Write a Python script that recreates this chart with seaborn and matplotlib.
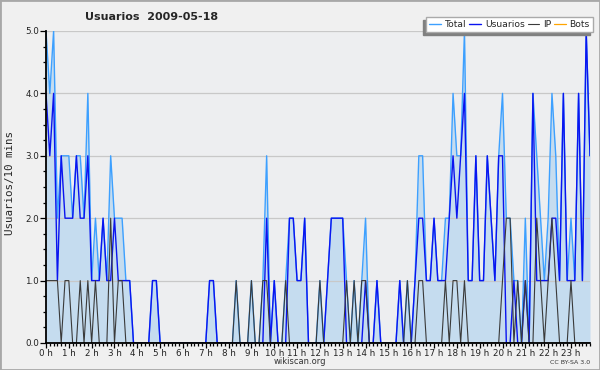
import matplotlib
matplotlib.use('Agg')
import matplotlib.pyplot as plt
from matplotlib.patches import Rectangle
from matplotlib.ticker import MultipleLocator, FixedLocator, FormatStrFormatter
import numpy as np
import pandas as pd
import seaborn as sns

# one value per 10 minutes, 2009-05-18 (144 slots)
total = [5, 4, 5, 2, 3, 3, 3, 2, 3, 3, 2, 4,
         1, 2, 1, 2, 1, 3, 2, 2, 2, 1, 1, 0,
         0, 0, 0, 0, 1, 1, 0, 0, 0, 0, 0, 0,
         0, 0, 0, 0, 0, 0, 0, 1, 1, 0, 0, 0,
         0, 0, 1, 0, 0, 0, 1, 0, 0, 1, 3, 0,
         1, 0, 0, 1, 2, 2, 1, 1, 2, 0, 0, 0,
         1, 0, 1, 2, 2, 2, 2, 1, 0, 1, 0, 1,
         2, 0, 0, 1, 0, 0, 0, 0, 0, 1, 0, 1,
         0, 1, 3, 3, 1, 1, 2, 1, 1, 2, 2, 4,
         3, 3, 5, 1, 1, 3, 1, 1, 3, 2, 1, 3,
         4, 2, 2, 1, 1, 0, 2, 0, 4, 3, 2, 1,
         2, 4, 3, 1, 4, 1, 2, 1, 4, 1, 5, 3]

usuarios = [4, 3, 4, 1, 3, 2, 2, 2, 3, 2, 2, 3,
            1, 1, 1, 2, 1, 1, 2, 1, 1, 1, 1, 0,
            0, 0, 0, 0, 1, 1, 0, 0, 0, 0, 0, 0,
            0, 0, 0, 0, 0, 0, 0, 1, 1, 0, 0, 0,
            0, 0, 0, 0, 0, 0, 0, 0, 0, 0, 2, 0,
            1, 0, 0, 0, 2, 2, 1, 1, 2, 0, 0, 0,
            0, 0, 1, 2, 2, 2, 2, 0, 0, 0, 0, 0,
            1, 0, 0, 1, 0, 0, 0, 0, 0, 1, 0, 0,
            0, 1, 2, 2, 1, 1, 2, 1, 1, 1, 2, 3,
            2, 3, 4, 1, 1, 3, 1, 1, 3, 2, 1, 3,
            3, 0, 0, 1, 0, 0, 1, 0, 4, 1, 1, 1,
            1, 2, 2, 1, 4, 1, 1, 1, 4, 1, 5, 3]

ip = [1, 1, 1, 1, 0, 1, 1, 0, 0, 1, 0, 1,
      0, 1, 0, 0, 0, 2, 0, 1, 1, 0, 0, 0,
      0, 0, 0, 0, 0, 0, 0, 0, 0, 0, 0, 0,
      0, 0, 0, 0, 0, 0, 0, 0, 0, 0, 0, 0,
      0, 0, 1, 0, 0, 0, 1, 0, 0, 1, 1, 0,
      0, 0, 0, 1, 0, 0, 0, 0, 0, 0, 0, 0,
      1, 0, 0, 0, 0, 0, 0, 1, 0, 1, 0, 1,
      1, 0, 0, 0, 0, 0, 0, 0, 0, 0, 0, 1,
      0, 0, 1, 1, 0, 0, 0, 0, 0, 1, 0, 1,
      1, 0, 1, 0, 0, 0, 0, 0, 0, 0, 0, 0,
      1, 2, 2, 0, 1, 0, 1, 0, 0, 2, 1, 0,
      1, 2, 1, 0, 0, 0, 1, 0, 0, 0, 0, 0]

bots = [0] * 144

hour_labels = [f"{h} h" for h in range(24)]

hours = np.arange(144) / 6
df = pd.DataFrame({'hour': hours, 'Total': total, 'Usuarios': usuarios,
                   'IP': ip, 'Bots': bots})

sns.set_style('white')
plt.rcParams['font.family'] = ['DejaVu Sans']

fig = plt.figure(figsize=(6, 3.7), dpi=100, facecolor='#F0F0F0')
ax = fig.add_axes([46 / 600, 1 - 343 / 370, 544 / 600, 312 / 370])
ax.set_facecolor('#EDEEF0')

# area under total
ax.fill_between(df['hour'], df['Total'], color='#C5DCEF', lw=0, zorder=1)
for y in range(1, 6):
    ax.axhline(y, color='#C8C8C8', lw=0.9, zorder=1.5)

sns.lineplot(data=df, x='hour', y='Bots', ax=ax, color='#FFA500', lw=0.9,
             label='Bots', legend=False, zorder=1.2)
sns.lineplot(data=df, x='hour', y='Total', ax=ax, color='#3DA0FF', lw=1.0,
             label='Total', legend=False, zorder=2)
sns.lineplot(data=df, x='hour', y='Usuarios', ax=ax, color='#0A14F0', lw=1.0,
             label='Usuarios', legend=False, zorder=3)
sns.lineplot(data=df, x='hour', y='IP', ax=ax, color='#3A3A3A', lw=0.8,
             label='IP', legend=False, zorder=4)

ax.set_xlim(0, 143 / 6)
ax.set_ylim(0, 5)
ax.set_xlabel('')
ax.set_ylabel('')

ax.xaxis.set_major_locator(FixedLocator(range(24)))
ax.set_xticklabels(hour_labels)
ax.xaxis.set_minor_locator(MultipleLocator(1 / 6))
ax.yaxis.set_major_locator(FixedLocator(range(6)))
ax.yaxis.set_major_formatter(FormatStrFormatter('%.1f'))
ax.yaxis.set_minor_locator(MultipleLocator(0.25))
ax.tick_params(axis='both', which='both', direction='out', color='black',
               labelsize=6.3, pad=1, bottom=True, left=True, labelcolor='#222222')
ax.tick_params(axis='x', which='major', length=3.5, width=0.9, pad=0.5)
ax.tick_params(axis='x', which='minor', length=2.5, width=0.9)
ax.tick_params(axis='y', which='major', length=4, width=0.9)
ax.tick_params(axis='y', which='minor', length=2.5, width=0.9)

for side in ['top', 'right']:
    ax.spines[side].set_visible(False)
for side in ['left', 'bottom']:
    ax.spines[side].set_color('black')
    ax.spines[side].set_linewidth(1.3)
    ax.spines[side].set_zorder(5)

# legend with a shadow drawn on its lower-left side
order = ['Total', 'Usuarios', 'IP', 'Bots']
lines = {l.get_label(): l for l in ax.get_lines()}
leg = fig.legend([lines[k] for k in order], order, loc='upper right',
                 bbox_to_anchor=(593 / 600, 1 - 17 / 370), ncol=4,
                 fontsize=6.6, frameon=True, fancybox=False, handlelength=1.3,
                 handletextpad=0.4, columnspacing=0.3, borderpad=0.35,
                 borderaxespad=0)
leg.get_frame().set_facecolor('white')
leg.get_frame().set_edgecolor('#AAAAAA')
leg.get_frame().set_alpha(1)
leg.set_zorder(6)
fig.canvas.draw()
bb = leg.get_window_extent().transformed(fig.transFigure.inverted())
fig.add_artist(Rectangle((bb.x0 - 3 / 600, bb.y0 - 3 / 370), bb.width, bb.height,
                         transform=fig.transFigure, color='#808080', zorder=5))

fig.text(152 / 600, 1 - 17 / 370, 'Usuarios  2009-05-18', ha='center',
         va='center', fontsize=8, fontweight='bold')
fig.text(10 / 600, 1 - 183 / 370, 'Usuarios/10 mins', rotation=90, ha='center',
         va='center', fontsize=7.8, family='DejaVu Sans Mono')
fig.text(300 / 600, 1 - 362 / 370, 'wikiscan.org', ha='center', va='center',
         fontsize=6, color='#333333')
fig.text(590 / 600, 1 - 362 / 370, 'CC BY-SA 3.0', ha='right', va='center',
         fontsize=4.5, color='#333333')
fig.add_artist(Rectangle((0, 0), 1, 1, transform=fig.transFigure, fill=False,
                         edgecolor='#A8A8A8', lw=2))

fig.savefig('out.png', dpi=100, facecolor=fig.get_facecolor())
